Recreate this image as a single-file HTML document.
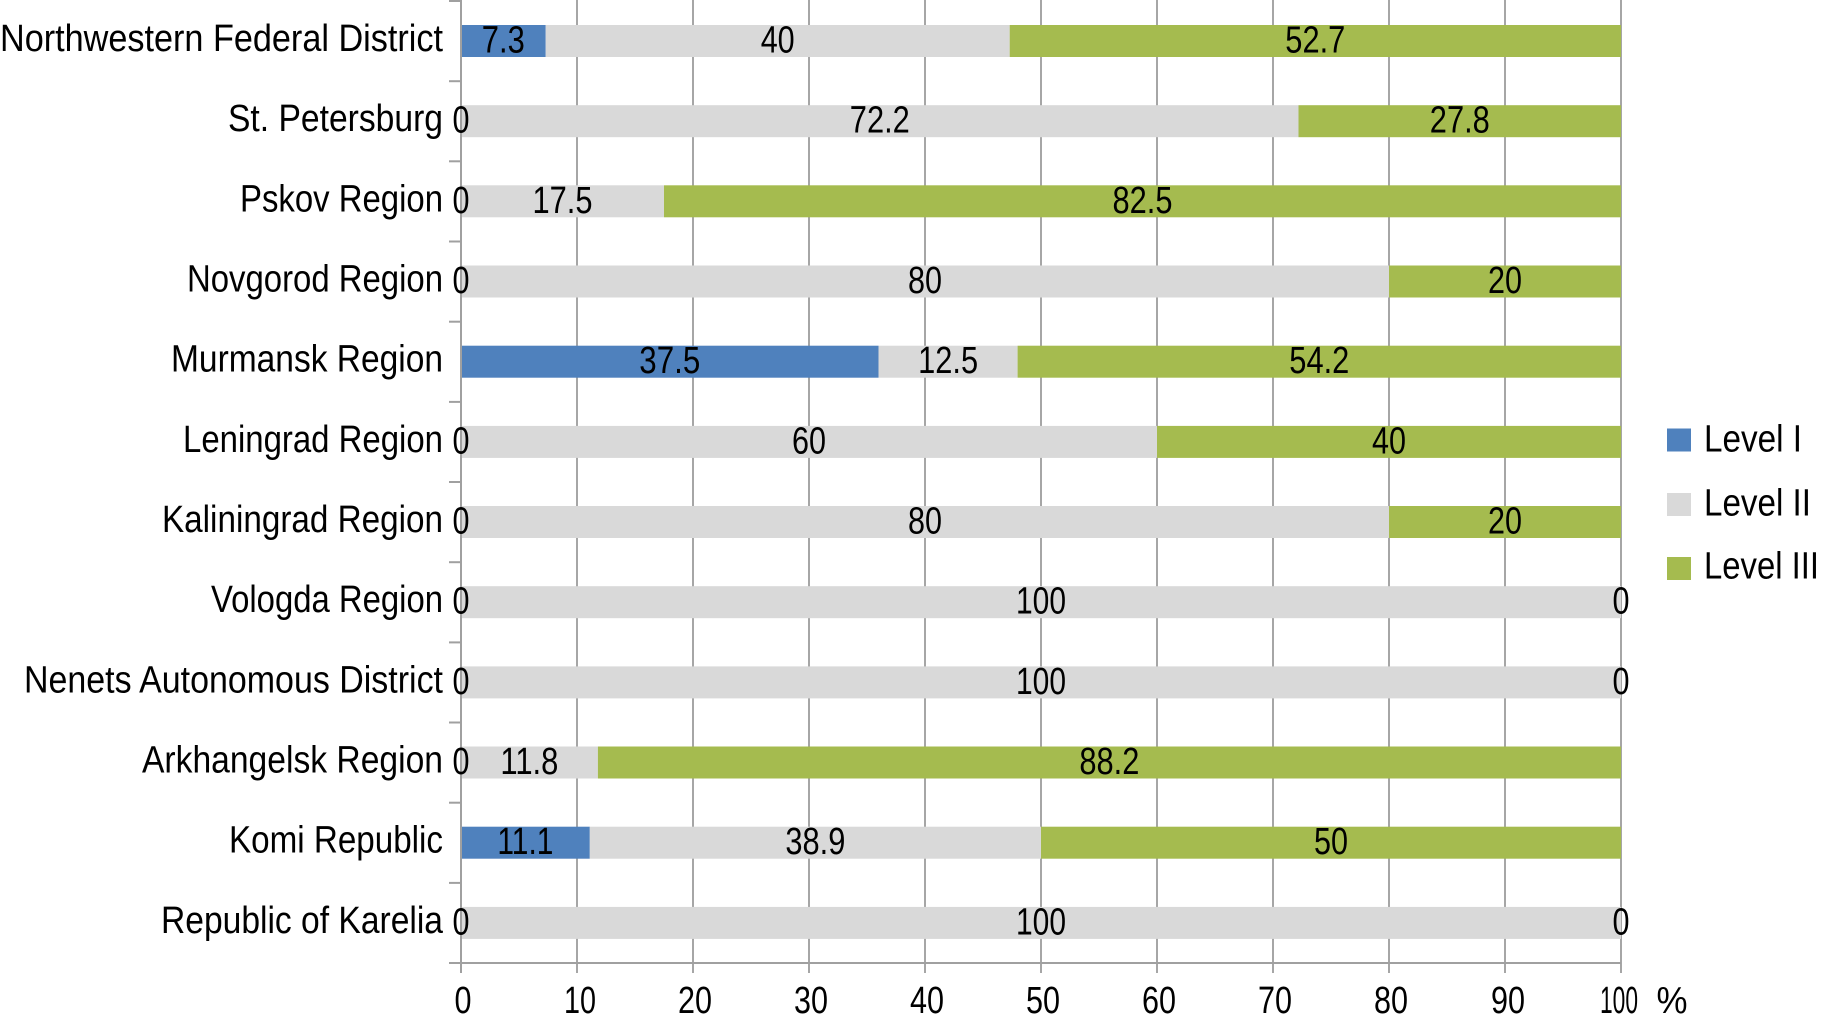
<!DOCTYPE html>
<html>
<head>
<meta charset="utf-8">
<style>
html,body{margin:0;padding:0;background:#fff;}
svg{display:block;}
text{font-family:"Liberation Sans",sans-serif;font-size:38px;fill:#000;}
</style>
</head>
<body>
<svg width="1821" height="1024" viewBox="0 0 1821 1024" xmlns="http://www.w3.org/2000/svg">
<!-- gridlines -->
<g stroke="#a6a6a6" stroke-width="2">
<line x1="577" y1="0" x2="577" y2="973"/>
<line x1="693" y1="0" x2="693" y2="973"/>
<line x1="809" y1="0" x2="809" y2="973"/>
<line x1="925" y1="0" x2="925" y2="973"/>
<line x1="1041" y1="0" x2="1041" y2="973"/>
<line x1="1157" y1="0" x2="1157" y2="973"/>
<line x1="1273" y1="0" x2="1273" y2="973"/>
<line x1="1389" y1="0" x2="1389" y2="973"/>
<line x1="1505" y1="0" x2="1505" y2="973"/>
<line x1="1621" y1="0" x2="1621" y2="973"/>
</g>
<!-- bars -->
<g>
<rect x="461" y="25" width="84.7" height="32" fill="#4f81bd"/>
<rect x="545.7" y="25" width="464" height="32" fill="#d9d9d9"/>
<rect x="1009.7" y="25" width="611.3" height="32" fill="#a5bb4f"/>

<rect x="461" y="105.2" width="837.5" height="32" fill="#d9d9d9"/>
<rect x="1298.5" y="105.2" width="322.5" height="32" fill="#a5bb4f"/>

<rect x="461" y="185.3" width="203" height="32" fill="#d9d9d9"/>
<rect x="664" y="185.3" width="957" height="32" fill="#a5bb4f"/>

<rect x="461" y="265.5" width="928" height="32" fill="#d9d9d9"/>
<rect x="1389" y="265.5" width="232" height="32" fill="#a5bb4f"/>

<rect x="461" y="345.7" width="417.5" height="32" fill="#4f81bd"/>
<rect x="878.5" y="345.7" width="139.1" height="32" fill="#d9d9d9"/>
<rect x="1017.6" y="345.7" width="603.4" height="32" fill="#a5bb4f"/>

<rect x="461" y="425.9" width="696" height="32" fill="#d9d9d9"/>
<rect x="1157" y="425.9" width="464" height="32" fill="#a5bb4f"/>

<rect x="461" y="506" width="928" height="32" fill="#d9d9d9"/>
<rect x="1389" y="506" width="232" height="32" fill="#a5bb4f"/>

<rect x="461" y="586.2" width="1160" height="32" fill="#d9d9d9"/>

<rect x="461" y="666.4" width="1160" height="32" fill="#d9d9d9"/>

<rect x="461" y="746.5" width="136.9" height="32" fill="#d9d9d9"/>
<rect x="597.9" y="746.5" width="1023.1" height="32" fill="#a5bb4f"/>

<rect x="461" y="826.7" width="128.8" height="32" fill="#4f81bd"/>
<rect x="589.8" y="826.7" width="451.2" height="32" fill="#d9d9d9"/>
<rect x="1041" y="826.7" width="580" height="32" fill="#a5bb4f"/>

<rect x="461" y="906.9" width="1160" height="32" fill="#d9d9d9"/>
</g>
<!-- axes -->
<g stroke="#a0a0a0" stroke-width="2">
<line x1="461" y1="0" x2="461" y2="973"/>
<line x1="449" y1="963" x2="1621" y2="963"/>
<line x1="449" y1="1" x2="461" y2="1"/>
<line x1="449" y1="81.2" x2="461" y2="81.2"/>
<line x1="449" y1="161.3" x2="461" y2="161.3"/>
<line x1="449" y1="241.5" x2="461" y2="241.5"/>
<line x1="449" y1="321.7" x2="461" y2="321.7"/>
<line x1="449" y1="401.9" x2="461" y2="401.9"/>
<line x1="449" y1="482" x2="461" y2="482"/>
<line x1="449" y1="562.2" x2="461" y2="562.2"/>
<line x1="449" y1="642.4" x2="461" y2="642.4"/>
<line x1="449" y1="722.5" x2="461" y2="722.5"/>
<line x1="449" y1="802.7" x2="461" y2="802.7"/>
<line x1="449" y1="882.9" x2="461" y2="882.9"/>
</g>
<!-- category labels -->
<g text-anchor="end">
<text x="443" y="51" textLength="443" lengthAdjust="spacingAndGlyphs">Northwestern Federal District</text>
<text x="443" y="131.2" textLength="215" lengthAdjust="spacingAndGlyphs">St. Petersburg</text>
<text x="443" y="211.3" textLength="203" lengthAdjust="spacingAndGlyphs">Pskov Region</text>
<text x="443" y="291.5" textLength="256" lengthAdjust="spacingAndGlyphs">Novgorod Region</text>
<text x="443" y="371.7" textLength="272" lengthAdjust="spacingAndGlyphs">Murmansk Region</text>
<text x="443" y="451.9" textLength="260" lengthAdjust="spacingAndGlyphs">Leningrad Region</text>
<text x="443" y="532" textLength="281" lengthAdjust="spacingAndGlyphs">Kaliningrad Region</text>
<text x="443" y="612.2" textLength="232" lengthAdjust="spacingAndGlyphs">Vologda Region</text>
<text x="443" y="692.4" textLength="419" lengthAdjust="spacingAndGlyphs">Nenets Autonomous District</text>
<text x="443" y="772.5" textLength="301" lengthAdjust="spacingAndGlyphs">Arkhangelsk Region</text>
<text x="443" y="852.7" textLength="214" lengthAdjust="spacingAndGlyphs">Komi Republic</text>
<text x="443" y="932.9" textLength="282" lengthAdjust="spacingAndGlyphs">Republic of Karelia</text>
</g>
<!-- data labels -->
<g text-anchor="middle">
<text x="503.3" y="52.5" textLength="43" lengthAdjust="spacingAndGlyphs">7.3</text>
<text x="777.7" y="52.5" textLength="34" lengthAdjust="spacingAndGlyphs">40</text>
<text x="1315.3" y="52.5" textLength="60" lengthAdjust="spacingAndGlyphs">52.7</text>

<text x="461" y="132.7" textLength="17" lengthAdjust="spacingAndGlyphs">0</text>
<text x="879.8" y="132.7" textLength="60" lengthAdjust="spacingAndGlyphs">72.2</text>
<text x="1459.8" y="132.7" textLength="60" lengthAdjust="spacingAndGlyphs">27.8</text>

<text x="461" y="212.8" textLength="17" lengthAdjust="spacingAndGlyphs">0</text>
<text x="562.5" y="212.8" textLength="60" lengthAdjust="spacingAndGlyphs">17.5</text>
<text x="1142.5" y="212.8" textLength="60" lengthAdjust="spacingAndGlyphs">82.5</text>

<text x="461" y="293" textLength="17" lengthAdjust="spacingAndGlyphs">0</text>
<text x="925" y="293" textLength="34" lengthAdjust="spacingAndGlyphs">80</text>
<text x="1505" y="293" textLength="34" lengthAdjust="spacingAndGlyphs">20</text>

<text x="669.8" y="373.2" textLength="61" lengthAdjust="spacingAndGlyphs">37.5</text>
<text x="948.1" y="373.2" textLength="60" lengthAdjust="spacingAndGlyphs">12.5</text>
<text x="1319.3" y="373.2" textLength="60" lengthAdjust="spacingAndGlyphs">54.2</text>

<text x="461" y="453.4" textLength="17" lengthAdjust="spacingAndGlyphs">0</text>
<text x="809" y="453.4" textLength="34" lengthAdjust="spacingAndGlyphs">60</text>
<text x="1389" y="453.4" textLength="34" lengthAdjust="spacingAndGlyphs">40</text>

<text x="461" y="533.5" textLength="17" lengthAdjust="spacingAndGlyphs">0</text>
<text x="925" y="533.5" textLength="34" lengthAdjust="spacingAndGlyphs">80</text>
<text x="1505" y="533.5" textLength="34" lengthAdjust="spacingAndGlyphs">20</text>

<text x="461" y="613.7" textLength="17" lengthAdjust="spacingAndGlyphs">0</text>
<text x="1041" y="613.7" textLength="50" lengthAdjust="spacingAndGlyphs">100</text>
<text x="1621" y="613.7" textLength="17" lengthAdjust="spacingAndGlyphs">0</text>

<text x="461" y="693.9" textLength="17" lengthAdjust="spacingAndGlyphs">0</text>
<text x="1041" y="693.9" textLength="50" lengthAdjust="spacingAndGlyphs">100</text>
<text x="1621" y="693.9" textLength="17" lengthAdjust="spacingAndGlyphs">0</text>

<text x="461" y="774" textLength="17" lengthAdjust="spacingAndGlyphs">0</text>
<text x="529.4" y="774" textLength="58" lengthAdjust="spacingAndGlyphs">11.8</text>
<text x="1109.4" y="774" textLength="60" lengthAdjust="spacingAndGlyphs">88.2</text>

<text x="525.4" y="854.2" textLength="56" lengthAdjust="spacingAndGlyphs">11.1</text>
<text x="815.4" y="854.2" textLength="60" lengthAdjust="spacingAndGlyphs">38.9</text>
<text x="1331" y="854.2" textLength="34" lengthAdjust="spacingAndGlyphs">50</text>

<text x="461" y="934.4" textLength="17" lengthAdjust="spacingAndGlyphs">0</text>
<text x="1041" y="934.4" textLength="50" lengthAdjust="spacingAndGlyphs">100</text>
<text x="1621" y="934.4" textLength="17" lengthAdjust="spacingAndGlyphs">0</text>
</g>
<!-- x axis labels -->
<g text-anchor="middle">
<text x="463" y="1013" textLength="17" lengthAdjust="spacingAndGlyphs">0</text>
<text x="580" y="1013" textLength="32" lengthAdjust="spacingAndGlyphs">10</text>
<text x="695" y="1013" textLength="34" lengthAdjust="spacingAndGlyphs">20</text>
<text x="811" y="1013" textLength="34" lengthAdjust="spacingAndGlyphs">30</text>
<text x="927" y="1013" textLength="34" lengthAdjust="spacingAndGlyphs">40</text>
<text x="1043" y="1013" textLength="34" lengthAdjust="spacingAndGlyphs">50</text>
<text x="1159" y="1013" textLength="34" lengthAdjust="spacingAndGlyphs">60</text>
<text x="1275" y="1013" textLength="34" lengthAdjust="spacingAndGlyphs">70</text>
<text x="1391" y="1013" textLength="34" lengthAdjust="spacingAndGlyphs">80</text>
<text x="1508" y="1013" textLength="34" lengthAdjust="spacingAndGlyphs">90</text>
<text x="1619" y="1013" textLength="38" lengthAdjust="spacingAndGlyphs">100</text>
<text x="1672" y="1013" textLength="31" lengthAdjust="spacingAndGlyphs">%</text>
</g>
<!-- legend -->
<rect x="1667" y="428.5" width="24" height="23" fill="#4f81bd"/>
<rect x="1667" y="493" width="24" height="23" fill="#d9d9d9"/>
<rect x="1667" y="557" width="24" height="23" fill="#a5bb4f"/>
<text x="1704" y="451.7" textLength="98" lengthAdjust="spacingAndGlyphs">Level I</text>
<text x="1704" y="515.5" textLength="107" lengthAdjust="spacingAndGlyphs">Level II</text>
<text x="1704" y="578.5" textLength="115" lengthAdjust="spacingAndGlyphs">Level III</text>
</svg>
</body>
</html>
